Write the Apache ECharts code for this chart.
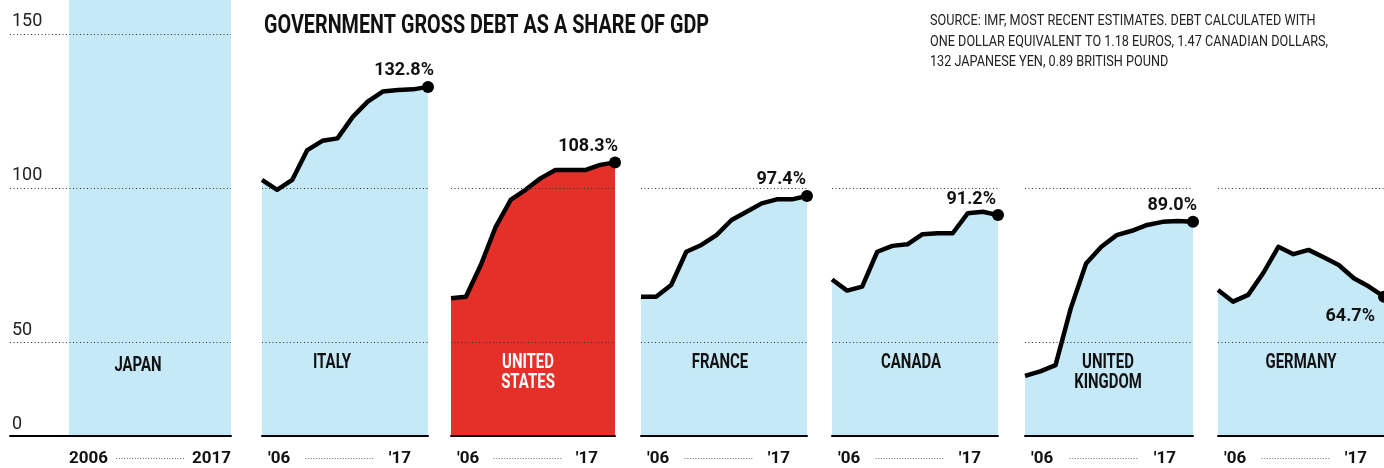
<!DOCTYPE html>
<html>
<head>
<meta charset="utf-8">
<script src="https://cdn.jsdelivr.net/npm/echarts@6.0.0/dist/echarts.min.js"></script>
<style>
  html, body { margin: 0; padding: 0; background: #fff; }
  #chart { width: 1384px; height: 468px; }
</style>
</head>
<body>
<div id="chart"></div>
<script>
const years = [2006, 2007, 2008, 2009, 2010, 2011, 2012, 2013, 2014, 2015, 2016, 2017];
const countries = ['JAPAN', 'ITALY', 'UNITED\nSTATES', 'FRANCE', 'CANADA', 'UNITED\nKINGDOM', 'GERMANY'];
const japan = [186.0, 183.4, 191.8, 210.2, 215.8, 231.6, 238.0, 244.5, 249.1, 248.0, 250.4, 240.3];
const italy = [102.6, 99.4, 102.6, 112.3, 115.3, 116.1, 123.0, 128.0, 131.3, 131.8, 132.0, 132.8];
const unitedStates = [64.2, 64.7, 75.0, 87.4, 96.1, 99.4, 103.1, 105.8, 105.8, 105.8, 107.5, 108.3];
const france = [64.7, 64.7, 68.5, 79.3, 81.5, 84.7, 89.6, 92.3, 95.0, 96.3, 96.3, 97.4];
const canada = [70.3, 66.7, 68.0, 79.3, 81.2, 81.7, 85.0, 85.3, 85.3, 91.8, 92.3, 91.2];
const unitedKingdom = [39.0, 40.5, 42.5, 61.0, 75.5, 80.9, 84.7, 86.1, 88.0, 89.0, 89.3, 89.0];
const germany = [66.9, 63.1, 65.3, 72.4, 80.9, 78.5, 79.9, 77.5, 75.0, 70.7, 68.0, 64.7];
const seriesValues = [japan, italy, unitedStates, france, canada, unitedKingdom, germany];

const gridValues = [50, 100, 150];
const yTickLabels = ['0', '50', '100', '150'];
const yFloor = 19.5;   // value at the baseline (axis is cut, labelled 0)
const yCeil = 161;

const TITLE = 'GOVERNMENT GROSS DEBT AS A SHARE OF GDP';
const NOTE = [
  'SOURCE: IMF, MOST RECENT ESTIMATES. DEBT CALCULATED WITH',
  'ONE DOLLAR EQUIVALENT TO 1.18 EUROS, 1.47 CANADIAN DOLLARS,',
  '132 JAPANESE YEN, 0.89 BRITISH POUND'
];

const FONT = 'Roboto';
const BLUE = '#c6e9f8';
const RED = '#e5302a';
const INK = '#111';

// panel layout: grid left/width, name centre, end label nudge
const panels = [
  { left: 10, width: 221, xMin: 2002, nameX: 138, nameY: 356 },
  { left: 262, width: 166, nameX: 332, dx: 6 },
  { left: 451, width: 164, nameX: 528, dx: 3, red: true },
  { left: 641, width: 166, nameX: 720, dx: -1 },
  { left: 832, width: 166, nameX: 911, dx: -2 },
  { left: 1025, width: 168, nameX: 1108, dx: 4 },
  { left: 1218, width: 166, nameX: 1301, dx: -9, below: true }
];

const dotted = { color: '#333', width: 1, type: [1, 2.5] };

// no condensed face is installed, so squeeze the headline texts horizontally
const measure = document.createElement('canvas').getContext('2d');
function squeeze(text, font, width) {
  measure.font = font;
  return width / measure.measureText(text).width;
}

const chart = echarts.init(document.getElementById('chart'));

const grids = panels.map(p => ({ left: p.left, width: p.width, top: 0, height: 436 }));

const xAxes = panels.map((p, i) => {
  const first = i === 0;
  return {
    type: 'value', gridIndex: i, z: 5,
    min: p.xMin || years[0], max: years[years.length - 1],
    axisLine: { show: true, lineStyle: { color: '#000', width: 2 } },
    axisTick: { show: false },
    splitLine: { show: false },
    axisLabel: {
      show: true,
      customValues: [years[0], (years[0] + years[years.length - 1]) / 2, years[years.length - 1]],
      alignMinLabel: 'left',
      alignMaxLabel: 'right',
      margin: 14,
      padding: first ? 0 : [0, 17, 0, 6],
      fontFamily: FONT, fontWeight: 'bold', fontSize: 17, color: INK,
      formatter: v => {
        if (v !== years[0] && v !== years[years.length - 1]) return '{d|' + '·'.repeat(26) + '}';
        return first ? String(v) : "'" + String(v).slice(2);
      },
      rich: {
        d: { fontFamily: 'Liberation Sans', fontSize: 8, fontWeight: 'normal', color: '#444', lineHeight: 18 }
      }
    }
  };
});

const yAxes = panels.map((p, i) => ({
  type: 'value', gridIndex: i, z: 5,
  min: yFloor, max: yCeil,
  axisLine: { show: false },
  axisTick: { show: false, customValues: i === 0 ? gridValues : gridValues.slice(0, 2) },
  splitLine: { show: true, lineStyle: dotted },
  axisLabel: i === 0 ? {
    show: true, inside: true, margin: 2,
    customValues: [yFloor].concat(gridValues),
    formatter: v => yTickLabels[[yFloor].concat(gridValues).indexOf(v)],
    align: 'left', verticalAlign: 'bottom', padding: [0, 0, 3, 0],
    fontFamily: FONT, fontSize: 18, color: '#222'
  } : { show: false }
}));

const series = panels.map((p, i) => {
  const vals = seriesValues[i];
  const data = years.map((y, k) => [y, vals[k]]);
  if (i > 0) {
    const last = vals[vals.length - 1];
    data[data.length - 1] = {
      value: [years[years.length - 1], last],
      symbol: 'circle', symbolSize: 12,
      itemStyle: { color: '#000' },
      label: {
        show: true,
        position: p.below ? 'bottom' : 'top',
        distance: p.below ? 5 : 1,
        align: 'right',
        offset: [p.dx, 0],
        formatter: last.toFixed(1) + '%',
        fontFamily: FONT, fontWeight: 'bold', fontSize: 18, color: INK
      }
    };
  }
  return {
    type: 'line', xAxisIndex: i, yAxisIndex: i,
    data,
    symbol: 'none',
    silent: true,
    clip: true,
    lineStyle: { color: '#000', width: 4.5, join: 'round' },
    areaStyle: { color: p.red ? RED : BLUE, opacity: 1 }
  };
});

const titleFont = 'bold 25px ' + FONT;
const noteFont = '15px ' + FONT;
const nameFont = 'bold 21px ' + FONT;
const nameScale = squeeze('GERMANY', nameFont, 71);

const graphics = [
  {
    type: 'text', x: 264, y: 27, scaleX: squeeze(TITLE, titleFont, 445), silent: true,
    style: { text: TITLE, font: titleFont, fill: INK, align: 'left', verticalAlign: 'middle' }
  },
  {
    type: 'text', x: 930, y: 11, scaleX: squeeze(NOTE[1], noteFont, 398), silent: true,
    style: { text: NOTE.join('\n'), font: noteFont, lineHeight: 20.5, fill: '#222', align: 'left', verticalAlign: 'top' }
  }
].concat(panels.map((p, i) => ({
  type: 'text', x: p.nameX, y: p.nameY || 353, scaleX: nameScale, silent: true, z: 10,
  style: {
    text: countries[i], font: nameFont, lineHeight: 20,
    fill: p.red ? '#fff' : INK, align: 'center', verticalAlign: 'top'
  }
})));

chart.setOption({
  animation: false,
  backgroundColor: '#fff',
  graphic: graphics,
  grid: grids,
  xAxis: xAxes,
  yAxis: yAxes,
  series
});
</script>
</body>
</html>
